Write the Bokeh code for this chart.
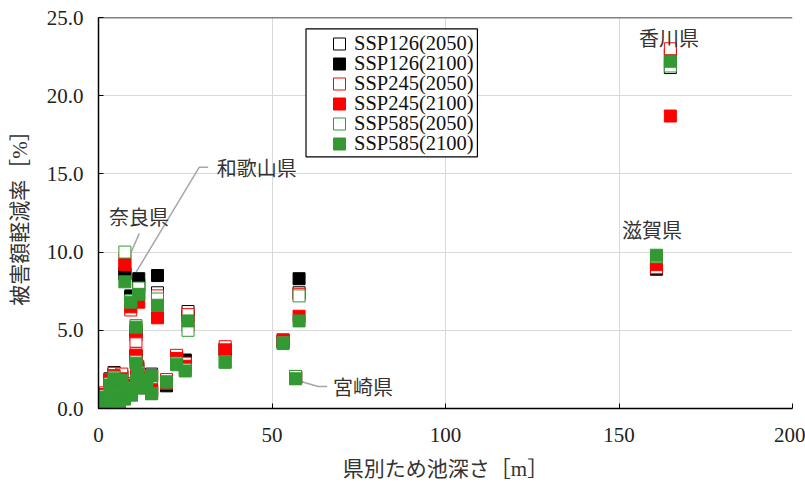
from bokeh.plotting import figure
from bokeh.models import (Range1d, FixedTicker, PrintfTickFormatter, Legend, LegendItem,
                          BoxAnnotation, Label, Span)
from bokeh.embed import file_html
from bokeh.resources import INLINE

# ---------------- data ----------------
depth = [164.8, 160.8, 56.8, 53.2, 57.8, 36.5, 25.8, 17.0, 7.6, 11.6, 9.3, 10.8,
         10.8, 11.3, 22.5, 25.0, 19.6, 15.3, 15.3, 13.9, 3.3, 4.5, 6.7, 5.5,
         2.0, 1.0, 0.3, 0.6, 3.0, 4.0, 7.5, 8.5, 9.5, 12.0, 6.0, 11.0]

ssp126_2050 = [21.8, 8.9, 2.0, 4.3, 7.4, 3.8, 6.2, 7.4, 8.7, 7.9, 7.1, 5.0,
               3.4, 2.6, 3.3, 3.0, 1.75, 2.2, 1.1, 1.9, 1.9, 2.3, 2.1, 1.2,
               0.9, 0.3, 0.1, 0.5, 0.5, 0.3, 0.8, 1.5, 1.0, 1.5, 0.2, 2.0]
ssp126_2100 = [22.6, 8.95, 1.95, 4.25, 8.3, 3.7, 5.9, 8.5, 8.6, 8.3, 7.2, 4.7,
               3.3, 2.5, 3.25, 3.1, 1.45, 2.1, 1.05, 1.8, 1.7, 2.2, 2.0, 1.1,
               0.8, 0.3, 0.05, 0.5, 0.45, 0.3, 0.7, 1.4, 0.95, 1.4, 0.2, 1.9]
ssp245_2050 = [23.0, 9.0, 2.05, 4.4, 7.3, 3.95, 6.0, 7.2, 9.5, 7.5, 6.3, 4.3,
               3.5, 2.7, 3.4, 2.9, 1.85, 2.1, 1.2, 2.0, 1.85, 2.25, 2.2, 1.3,
               1.0, 0.35, 0.15, 0.6, 0.6, 0.35, 0.85, 1.6, 1.1, 1.6, 0.25, 2.1]
ssp245_2100 = [18.7, 9.2, 2.0, 4.35, 5.9, 3.75, 5.3, 5.8, 9.2, 6.8, 6.5, 4.9,
               3.4, 2.6, 3.2, 2.7, 1.6, 1.6, 1.1, 1.9, 1.8, 2.1, 1.9, 1.2,
               0.9, 0.3, 0.1, 0.5, 0.5, 0.3, 0.75, 1.5, 1.0, 1.5, 0.2, 2.0]
ssp585_2050 = [21.9, 9.7, 2.05, 4.2, 7.2, 3.0, 5.0, 7.0, 10.0, 7.7, 6.9, 5.3,
               3.0, 2.3, 2.9, 2.5, 1.7, 2.0, 0.95, 1.8, 1.6, 2.0, 1.8, 1.0,
               0.8, 0.25, 0.05, 0.45, 0.4, 0.25, 0.65, 1.3, 0.9, 1.4, 0.15, 1.8]
ssp585_2100 = [22.2, 9.8, 1.9, 4.15, 5.6, 2.95, 5.6, 6.6, 8.1, 7.3, 6.8, 5.2,
               2.9, 2.2, 2.8, 2.4, 1.7, 2.1, 0.95, 1.75, 1.5, 1.9, 1.8, 1.0,
               0.7, 0.2, 0.0, 0.4, 0.4, 0.2, 0.6, 1.3, 0.85, 1.3, 0.15, 1.7]

series_names = ["SSP126(2050)", "SSP126(2100)", "SSP245(2050)",
                "SSP245(2100)", "SSP585(2050)", "SSP585(2100)"]
series_values = [ssp126_2050, ssp126_2100, ssp245_2050, ssp245_2100, ssp585_2050, ssp585_2100]
series_colors = ["#000000", "#000000", "#ff0000", "#ff0000", "#339933", "#339933"]
series_filled = [False, True, False, True, False, True]

x_ticks = [0, 50, 100, 150, 200]
y_ticks = [0, 5, 10, 15, 20, 25]

# prefecture annotations: (text, x, y, align)
labels = [("香川県", 164.4, 23.7, "center"),
          ("滋賀県", 159.5, 11.47, "center"),
          ("宮崎県", 67.6, 1.41, "left"),
          ("奈良県", 11.7, 12.3, "center"),
          ("和歌山県", 34.1, 15.43, "left")]
leader_x = [[31.6, 29.05, 9.57], [11.76, 7.15], [56.6, 63.3, 65.9]]
leader_y = [[15.43, 15.43, 8.25], [11.2, 8.85], [1.84, 1.41, 1.41]]

SERIF = "Liberation Serif"
JP = "'Liberation Serif', 'Noto Sans CJK JP'"

p = figure(width=805, height=484, output_backend="svg", toolbar_location=None,
           x_range=Range1d(0, 200), y_range=Range1d(0, 25),
           min_border_left=98, min_border_right=13, min_border_top=17, min_border_bottom=76,
           background_fill_color="white", border_fill_color="white")
p.outline_line_color = None

for ax in (p.xaxis[0], p.yaxis[0]):
    ax.axis_line_color = "black"
    ax.axis_line_width = 1.5
    ax.major_tick_in = 5
    ax.major_tick_out = 0
    ax.major_tick_line_color = "black"
    ax.minor_tick_line_color = None
    ax.major_label_text_font = SERIF
    ax.major_label_text_font_size = "21px"
    ax.major_label_text_color = "#222222"
    ax.axis_label_text_font = JP
    ax.axis_label_text_font_size = "21px"
    ax.axis_label_text_font_style = "normal"
    ax.axis_label_text_color = "#333333"

p.xaxis.ticker = FixedTicker(ticks=x_ticks)
p.yaxis.ticker = FixedTicker(ticks=y_ticks)
p.yaxis.formatter = PrintfTickFormatter(format="%.1f")
p.xaxis.axis_label = "県別ため池深さ［m］"
p.yaxis.axis_label = "被害額軽減率［%］"
p.xaxis.major_label_standoff = 19
p.yaxis.major_label_standoff = 15
p.xaxis.axis_label_standoff = 12
p.yaxis.axis_label_standoff = 12

p.grid.grid_line_color = "#d9d9d9"
p.grid.grid_line_width = 1

p.add_layout(Span(location=25, dimension="width", line_color="black", line_width=1.5))

# leader lines
for lx, ly in zip(leader_x, leader_y):
    p.line(lx, ly, line_color="#a6a6a6", line_width=1.5)

renderers = []
for name, vals, col, filled in zip(series_names, series_values, series_colors, series_filled):
    fc = col if filled else "white"
    r = p.scatter(depth, vals, marker="square", size=12, fill_color=fc,
                  line_color=col, line_width=1)
    renderers.append(r)

for text, lx, ly, align in labels:
    p.add_layout(Label(x=lx, y=ly, text=text, text_font="Noto Sans CJK JP",
                       text_font_size="20px", text_color="#333333",
                       text_align=align, text_baseline="middle"))

# legend frame
p.add_layout(BoxAnnotation(left=59.8, right=109.2, bottom=16.09, top=24.27,
                           fill_color="white", fill_alpha=1.0,
                           line_color="black", line_width=1.2, line_alpha=1.0))

# one legend per row so that rows sit 20px apart;
# legend marker size is 0.4*min(glyph box), so a 30px box gives a 12px square
for i, (name, r) in enumerate(zip(series_names, renderers)):
    lg = Legend(items=[LegendItem(label=name, renderers=[r])],
                location=(226, 348 - 20 * i), orientation="vertical",
                label_text_font=SERIF, label_text_font_size="20.5px",
                label_text_color="#111111",
                glyph_width=30, glyph_height=33, label_height=20, label_standoff=0,
                spacing=0, padding=0, margin=0,
                border_line_color=None, background_fill_alpha=0.0)
    p.add_layout(lg, "center")

open("out.html", "w").write(file_html(p, INLINE))
